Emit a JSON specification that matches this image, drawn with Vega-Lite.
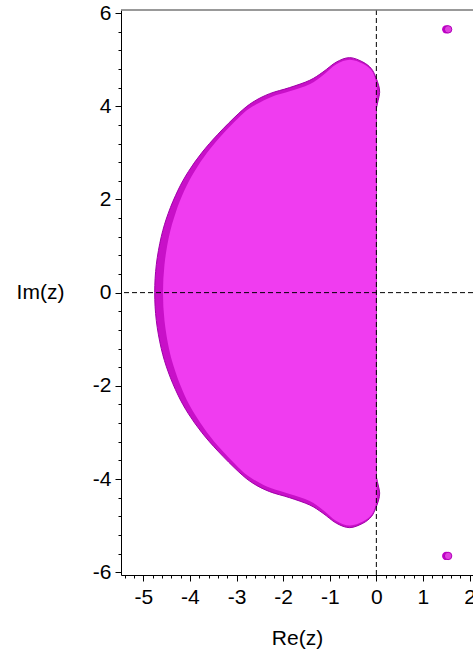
{
  "$schema": "https://vega.github.io/schema/vega-lite/v6.json",
  "autosize": "none",
  "width": 352,
  "height": 565,
  "padding": {"left": 121, "top": 10, "right": 0, "bottom": 76},
  "background": "white",
  "config": {"view": {"stroke": null}},
  "datasets": {
    "outer": [
      {"i":0,"x":-4.757,"y":0},{"i":1,"x":-4.722,"y":0.6},{"i":2,"x":-4.616,"y":1.2},{"i":3,"x":-4.467,"y":1.7},
      {"i":4,"x":-4.256,"y":2.2},{"i":5,"x":-4.033,"y":2.6},{"i":6,"x":-3.748,"y":3.0},{"i":7,"x":-3.4,"y":3.4},
      {"i":8,"x":-2.95,"y":3.85},{"i":9,"x":-2.648,"y":4.09},{"i":10,"x":-2.29,"y":4.27},{"i":11,"x":-1.861,"y":4.4},
      {"i":12,"x":-1.431,"y":4.556},{"i":13,"x":-1.146,"y":4.734},{"i":14,"x":-0.858,"y":4.948},{"i":15,"x":-0.573,"y":5.043},
      {"i":16,"x":-0.288,"y":4.948},{"i":17,"x":-0.107,"y":4.807},{"i":18,"x":-0.015,"y":4.627},{"i":19,"x":0.049,"y":4.448},
      {"i":20,"x":0.071,"y":4.298},{"i":21,"x":0.039,"y":4.127},{"i":22,"x":0.006,"y":3.976},{"i":23,"x":0,"y":3.805},
      {"i":24,"x":0,"y":2},{"i":25,"x":0,"y":0},{"i":26,"x":0,"y":-2},{"i":27,"x":0,"y":-3.805},
      {"i":28,"x":0.006,"y":-3.976},{"i":29,"x":0.039,"y":-4.127},{"i":30,"x":0.071,"y":-4.298},{"i":31,"x":0.049,"y":-4.448},
      {"i":32,"x":-0.015,"y":-4.627},{"i":33,"x":-0.107,"y":-4.807},{"i":34,"x":-0.288,"y":-4.948},{"i":35,"x":-0.573,"y":-5.043},
      {"i":36,"x":-0.858,"y":-4.948},{"i":37,"x":-1.146,"y":-4.734},{"i":38,"x":-1.431,"y":-4.556},{"i":39,"x":-1.861,"y":-4.4},
      {"i":40,"x":-2.29,"y":-4.27},{"i":41,"x":-2.648,"y":-4.09},{"i":42,"x":-2.95,"y":-3.85},{"i":43,"x":-3.4,"y":-3.4},
      {"i":44,"x":-3.748,"y":-3.0},{"i":45,"x":-4.033,"y":-2.6},{"i":46,"x":-4.256,"y":-2.2},{"i":47,"x":-4.467,"y":-1.7},
      {"i":48,"x":-4.616,"y":-1.2},{"i":49,"x":-4.722,"y":-0.6}
    ],
    "inner": [
      {"i":0,"x":-4.579,"y":0},{"i":1,"x":-4.547,"y":0.6},{"i":2,"x":-4.451,"y":1.2},{"i":3,"x":-4.312,"y":1.7},
      {"i":4,"x":-4.116,"y":2.2},{"i":5,"x":-3.903,"y":2.6},{"i":6,"x":-3.633,"y":3.0},{"i":7,"x":-3.3,"y":3.4},
      {"i":8,"x":-2.865,"y":3.841},{"i":9,"x":-2.575,"y":4.041},{"i":10,"x":-2.253,"y":4.2},{"i":11,"x":-1.861,"y":4.32},
      {"i":12,"x":-1.431,"y":4.47},{"i":13,"x":-1.146,"y":4.663},{"i":14,"x":-0.858,"y":4.899},{"i":15,"x":-0.573,"y":4.996},
      {"i":16,"x":-0.288,"y":4.91},{"i":17,"x":-0.107,"y":4.77},{"i":18,"x":-0.026,"y":4.599},{"i":19,"x":0.006,"y":4.427},
      {"i":20,"x":0.017,"y":4.234},{"i":21,"x":0,"y":4.019},{"i":22,"x":0,"y":2},{"i":23,"x":0,"y":0},
      {"i":24,"x":0,"y":-2},{"i":25,"x":0,"y":-4.019},{"i":26,"x":0.017,"y":-4.234},{"i":27,"x":0.006,"y":-4.427},
      {"i":28,"x":-0.026,"y":-4.599},{"i":29,"x":-0.107,"y":-4.77},{"i":30,"x":-0.288,"y":-4.91},{"i":31,"x":-0.573,"y":-4.996},
      {"i":32,"x":-0.858,"y":-4.899},{"i":33,"x":-1.146,"y":-4.663},{"i":34,"x":-1.431,"y":-4.47},{"i":35,"x":-1.861,"y":-4.32},
      {"i":36,"x":-2.253,"y":-4.2},{"i":37,"x":-2.575,"y":-4.041},{"i":38,"x":-2.865,"y":-3.841},{"i":39,"x":-3.3,"y":-3.4},
      {"i":40,"x":-3.633,"y":-3.0},{"i":41,"x":-3.903,"y":-2.6},{"i":42,"x":-4.116,"y":-2.2},{"i":43,"x":-4.312,"y":-1.7},
      {"i":44,"x":-4.451,"y":-1.2},{"i":45,"x":-4.547,"y":-0.6}
    ],
    "dots": [
      {"x":1.5,"y":5.65,"part":"back"},{"x":1.5,"y":-5.65,"part":"back"},
      {"x":1.54,"y":5.65,"part":"front"},{"x":1.54,"y":-5.65,"part":"front"}
    ]
  },
  "layer": [
    {
      "data": {"name": "outer"},
      "mark": {"type": "line", "interpolate": "cardinal-closed", "fill": "#c810c8", "stroke": "#a000a8", "strokeWidth": 1},
      "encoding": {
        "x": {"field": "x", "type": "quantitative",
          "scale": {"domain": [-5.48, 2.074], "nice": false, "zero": false},
          "axis": {
            "title": "Re(z)", "grid": false, "tickCount": 200,
            "values": [-5.4,-5.2,-5,-4.8,-4.6,-4.4,-4.2,-4,-3.8,-3.6,-3.4,-3.2,-3,-2.8,-2.6,-2.4,-2.2,-2,-1.8,-1.6,-1.4,-1.2,-1,-0.8,-0.6,-0.4,-0.2,0,0.2,0.4,0.6,0.8,1,1.2,1.4,1.6,1.8,2],
            "labelExpr": "abs(datum.value-round(datum.value))<0.001 ? ''+round(datum.value) : ''",
            "tickSize": {"condition": {"test": "abs(datum.value-round(datum.value))<0.001", "value": 6}, "value": 3},
            "labelFont": "Liberation Sans", "labelFontSize": 21, "labelColor": "#000",
            "labelPadding": 5, "labelOverlap": false, "labelFlush": false, "labelBound": false,
            "domainColor": "#000", "tickColor": "#000",
            "titleFont": "Liberation Sans", "titleFontSize": 21, "titleFontWeight": "normal", "titleColor": "#000",
            "titleY": 63, "titleBaseline": "middle"
          }
        },
        "y": {"field": "y", "type": "quantitative",
          "scale": {"domain": [-6.059, 6.065], "nice": false, "zero": false},
          "axis": {
            "title": "Im(z)", "grid": false, "tickCount": 200,
            "values": [-6,-5.6,-5.2,-4.8,-4.4,-4,-3.6,-3.2,-2.8,-2.4,-2,-1.6,-1.2,-0.8,-0.4,0,0.4,0.8,1.2,1.6,2,2.4,2.8,3.2,3.6,4,4.4,4.8,5.2,5.6,6],
            "labelExpr": "abs(datum.value/2-round(datum.value/2))<0.001 ? ''+round(datum.value) : ''",
            "tickSize": {"condition": {"test": "abs(datum.value/2-round(datum.value/2))<0.001", "value": 6}, "value": 3},
            "labelFont": "Liberation Sans", "labelFontSize": 21, "labelColor": "#000",
            "labelPadding": 4, "labelOverlap": false, "labelFlush": false, "labelBound": false,
            "domainColor": "#000", "tickColor": "#000",
            "titleFont": "Liberation Sans", "titleFontSize": 21, "titleFontWeight": "normal", "titleColor": "#000",
            "titleAngle": 0, "titleX": -81, "titleY": 282, "titleAlign": "center", "titleBaseline": "middle"
          }
        },
        "order": {"field": "i", "type": "quantitative"}
      }
    },
    {
      "data": {"name": "inner"},
      "mark": {"type": "line", "interpolate": "cardinal-closed", "fill": "#f03cf0", "stroke": null, "strokeWidth": 0},
      "encoding": {
        "x": {"field": "x", "type": "quantitative"},
        "y": {"field": "y", "type": "quantitative"},
        "order": {"field": "i", "type": "quantitative"}
      }
    },
    {
      "data": {"name": "dots"},
      "transform": [{"filter": "datum.part == 'back'"}],
      "mark": {"type": "point", "shape": "circle", "filled": true, "size": 70, "color": "#c000c8", "opacity": 1},
      "encoding": {
        "x": {"field": "x", "type": "quantitative"},
        "y": {"field": "y", "type": "quantitative"}
      }
    },
    {
      "data": {"name": "dots"},
      "transform": [{"filter": "datum.part == 'front'"}],
      "mark": {"type": "point", "shape": "circle", "filled": true, "size": 55, "color": "#e040e0", "opacity": 1, "stroke": "#b000b8", "strokeWidth": 1},
      "encoding": {
        "x": {"field": "x", "type": "quantitative"},
        "y": {"field": "y", "type": "quantitative"}
      }
    },
    {
      "data": {"values": [{}]},
      "mark": {"type": "rule", "color": "#000", "strokeDash": [5, 3], "strokeWidth": 1},
      "encoding": {"x": {"datum": 0}}
    },
    {
      "data": {"values": [{}]},
      "mark": {"type": "rule", "color": "#000", "strokeDash": [5, 3], "strokeWidth": 1},
      "encoding": {"y": {"datum": 0}}
    },
    {
      "data": {"values": [{}]},
      "mark": {"type": "rule", "color": "#777", "strokeWidth": 1.5},
      "encoding": {"y": {"datum": 6.065}}
    }
  ]
}
